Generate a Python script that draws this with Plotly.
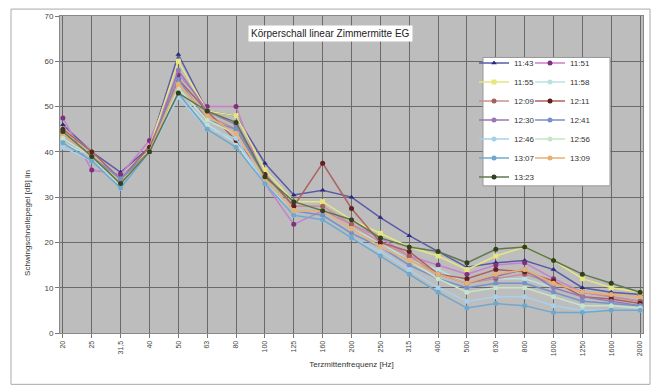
import plotly.graph_objects as go

freqs = ["20", "25", "31,5", "40", "50", "63", "80", "100", "125", "160", "200",
         "250", "315", "400", "500", "630", "800", "1000", "1250", "1600", "2000"]

s_1143 = [46, 40, 35.5, 41, 61.5, 49, 48, 37.5, 30.5, 31.5, 30, 25.5, 21.5, 18, 14.5, 15.5, 16, 14, 10, 9, 8.5]
s_1151 = [47.5, 36, 35, 42.5, 57, 50, 50, 33, 24, 27, 24, 21, 17, 15, 13, 15, 15.5, 12, 9, 8, 7]
s_1155 = [45, 40, 33, 41, 60, 49, 48, 36, 29, 29, 25, 22, 19, 17, 14, 17, 19, 16, 12, 10, 9]
s_1158 = [42, 39, 32, 40, 53, 46, 42, 33, 27, 27, 23, 20, 16, 14, 11, 12, 12, 10, 8, 7, 6]
s_1209 = [44, 39, 34, 40, 55, 48, 45, 35, 28, 28, 24, 20, 17, 13, 11, 12, 13, 11, 9, 8, 7]
s_1211 = [45, 40, 34, 41, 56, 49, 42.5, 35, 28, 37.5, 27.5, 20, 18, 13, 12, 14, 13.5, 11.5, 8, 7.5, 6.5]
s_1230 = [44, 39, 34, 40, 58, 49, 46, 34, 27, 27, 23, 19, 16, 13, 11, 12.5, 14, 10, 8, 7, 6]
s_1241 = [43, 39, 34, 40, 56, 47, 45, 34, 27, 26, 22, 19, 15, 12, 10, 11, 11, 9, 7, 6.5, 6]
s_1246 = [41, 38, 32, 40, 52, 45, 43, 33, 26, 25, 21, 18, 14, 10, 7, 8, 8, 6, 5, 5, 5]
s_1256 = [43, 39, 33, 40, 54, 47, 44, 34, 27, 27, 23, 19, 16, 12, 9, 10, 10, 8, 6, 6, 5.5]
s_1307 = [42, 38, 32, 40, 53, 45, 41, 33, 26, 25, 21, 17, 13, 9, 5.5, 6.5, 6, 4.5, 4.5, 5, 5]
s_1309 = [44, 39, 33, 40, 55, 48, 44, 34, 27, 27, 23, 19, 16, 13, 11, 13, 14, 11, 9, 8.5, 8]
s_1323 = [44.5, 39, 33, 40, 53, 49, 46.5, 34.5, 29, 27, 25, 21, 19, 18, 15.5, 18.5, 19, 16, 13, 11, 9]

# (name, values, line colour, marker colour, symbol, legend)
series = [
    ("11:43", s_1143, "#5a5aa8", "#2a2a78", "triangle-up", "legend"),
    ("11:51", s_1151, "#c880c8", "#803080", "circle", "legend2"),
    ("11:55", s_1155, "#e6e680", "#e6e680", "square", "legend"),
    ("11:58", s_1158, "#b8e2e2", "#b8e2e2", "circle", "legend2"),
    ("12:09", s_1209, "#c89090", "#a06060", "circle", "legend"),
    ("12:11", s_1211, "#b06060", "#602020", "circle", "legend2"),
    ("12:30", s_1230, "#9878b0", "#9878b0", "circle", "legend"),
    ("12:41", s_1241, "#7890c8", "#7890c8", "circle", "legend2"),
    ("12:46", s_1246, "#a8d0ec", "#a8d0ec", "circle", "legend"),
    ("12:56", s_1256, "#c8e4c8", "#c8e4c8", "circle", "legend2"),
    ("13:07", s_1307, "#70a8cc", "#70a8cc", "circle", "legend"),
    ("13:09", s_1309, "#e8b070", "#e8b070", "circle", "legend2"),
    ("13:23", s_1323, "#607850", "#304020", "circle", "legend"),
]

fig = go.Figure()
for name, vals, lc, mc, sym, lg in series:
    fig.add_trace(go.Scatter(
        x=freqs, y=vals, name=name, mode="lines+markers",
        line=dict(color=lc, width=1.5),
        marker=dict(color=mc, size=5, symbol=sym),
        legend=lg,
    ))

L, R, T, B = 60, 13, 12, 56
W, H = 656, 389
pw, ph = W - L - R, H - T - B


def px(x):
    return (x - L) / pw


def py(y):
    return (H - B - y) / ph


fig.update_layout(
    width=W, height=H,
    margin=dict(l=L, r=R, t=T, b=B),
    paper_bgcolor="white",
    plot_bgcolor="#bdbdbd",
    font=dict(family="Liberation Sans, Arial, sans-serif", size=8, color="#333"),
    showlegend=True,
    legend=dict(x=px(474), y=py(45), xanchor="left", yanchor="top",
                bgcolor="rgba(0,0,0,0)", borderwidth=0, itemwidth=30,
                font=dict(size=8, color="#333"), tracegroupgap=0),
    legend2=dict(x=px(530), y=py(45), xanchor="left", yanchor="top",
                 bgcolor="rgba(0,0,0,0)", borderwidth=0, itemwidth=30,
                 font=dict(size=8, color="#333"), tracegroupgap=0),
    shapes=[
        dict(type="rect", xref="paper", yref="paper",
             x0=px(483), x1=px(610), y0=py(54), y1=py(184),
             fillcolor="white", line=dict(color="#999", width=1), layer="above"),
        dict(type="rect", xref="paper", yref="paper",
             x0=px(11), x1=px(650), y0=py(5), y1=py(385),
             fillcolor="rgba(0,0,0,0)", line=dict(color="#aaa", width=1), layer="below"),
    ],
    annotations=[
        dict(text="Körperschall linear Zimmermitte EG", xref="paper", yref="paper",
             x=px(330), y=py(21), showarrow=False, bgcolor="white",
             font=dict(size=10, color="#222"), borderpad=2),
        dict(text="Schwingschnellepegel [dB] lin", xref="paper", yref="paper",
             x=px(21), y=py(222), showarrow=False, textangle=-90,
             font=dict(size=8, color="#333")),
    ],
)

fig.update_xaxes(
    type="category", range=[-0.1, 20.1],
    showgrid=True, gridcolor="#6a6a6a", gridwidth=1,
    tickangle=-90, tickfont=dict(size=7, color="#444"),
    ticks="outside", ticklen=4, tickcolor="#777",
    showline=True, linecolor="#888", mirror=True,
    title=dict(text="Terzmittenfrequenz [Hz]", font=dict(size=8, color="#333"), standoff=6),
)
fig.update_yaxes(
    range=[0, 70], dtick=10,
    showgrid=True, gridcolor="#6a6a6a", gridwidth=1,
    tickfont=dict(size=8, color="#444"),
    ticks="outside", ticklen=4, tickcolor="#777",
    showline=True, linecolor="#888", mirror=True,
    zeroline=False,
)

fig.write_html("out.html")
